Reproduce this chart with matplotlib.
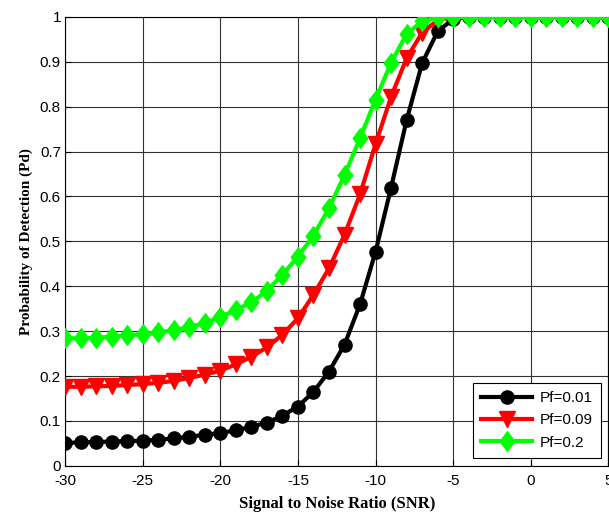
import matplotlib.pyplot as plt
from matplotlib.path import Path

# SNR axis (dB)
snr = list(range(-30, 6))

# Pd for each false alarm probability
pd_001 = [0.051, 0.052, 0.053, 0.054, 0.055, 0.056, 0.058, 0.061, 0.065, 0.069,
          0.073, 0.079, 0.087, 0.096, 0.112, 0.132, 0.165, 0.21, 0.27, 0.36,
          0.477, 0.62, 0.77, 0.897, 0.968, 0.995, 1.0, 1.0, 1.0, 1.0,
          1.0, 1.0, 1.0, 1.0, 1.0, 1.0]
pd_009 = [0.176, 0.176, 0.177, 0.178, 0.18, 0.182, 0.185, 0.189, 0.196, 0.203,
          0.212, 0.226, 0.243, 0.264, 0.292, 0.329, 0.381, 0.44, 0.515, 0.605,
          0.717, 0.822, 0.908, 0.965, 0.993, 1.0, 1.0, 1.0, 1.0, 1.0,
          1.0, 1.0, 1.0, 1.0, 1.0, 1.0]
pd_02 = [0.284, 0.284, 0.285, 0.288, 0.291, 0.293, 0.297, 0.302, 0.309, 0.318,
         0.332, 0.347, 0.364, 0.39, 0.426, 0.466, 0.513, 0.574, 0.648, 0.73,
         0.816, 0.898, 0.962, 0.99, 1.0, 1.0, 1.0, 1.0, 1.0, 1.0,
         1.0, 1.0, 1.0, 1.0, 1.0, 1.0]

xticks = [-30, -25, -20, -15, -10, -5, 0, 5]
yticks = [0, 0.1, 0.2, 0.3, 0.4, 0.5, 0.6, 0.7, 0.8, 0.9, 1]

plt.rcParams['font.family'] = ['Liberation Sans', 'DejaVu Sans']
plt.rcParams['axes.unicode_minus'] = False

# matlab style diamond, a bit taller than wide
diamond = Path([(0, 1), (0.75, 0), (0, -1), (-0.75, 0), (0, 1)],
               [Path.MOVETO, Path.LINETO, Path.LINETO, Path.LINETO, Path.CLOSEPOLY])

fig = plt.figure(figsize=(6.09, 5.13), dpi=100)
ax = fig.add_axes([0.107, 0.092, 0.892, 0.875])

ax.plot(snr, pd_001, color='k', lw=3, marker='o', ms=9.5, label='Pf=0.01', zorder=3)
ax.plot(snr, pd_009, color='r', lw=3, marker='v', ms=11.5, label='Pf=0.09', zorder=4)
ax.plot(snr, pd_02, color=(0, 1, 0), lw=3, marker=diamond, ms=14, label='Pf=0.2', zorder=5)

ax.set_xlim(-30, 5)
ax.set_ylim(0, 1)
ax.set_xticks(xticks)
ax.set_yticks(yticks)
ax.set_yticklabels(['0', '0.1', '0.2', '0.3', '0.4', '0.5', '0.6', '0.7', '0.8', '0.9', '1'])
ax.tick_params(direction='in', labelsize=11, length=4)
ax.tick_params(axis='x', pad=6)
ax.tick_params(axis='y', pad=3)
ax.grid(True, color='0.2', lw=0.8, ls='-')
ax.set_axisbelow(True)

ax.set_xlabel('Signal to Noise Ratio (SNR)', family='Liberation Serif',
              fontweight='bold', fontsize=12, labelpad=6)
ax.set_ylabel('Probability of Detection (Pd)', family='Liberation Serif',
              fontweight='bold', fontsize=11, labelpad=5)

leg = ax.legend(loc='lower right', fontsize=11, fancybox=False, framealpha=1,
                edgecolor='k', handlelength=3.3, handletextpad=0.5,
                borderaxespad=0.5, labelspacing=0.55, borderpad=0.55)
leg.get_frame().set_linewidth(0.8)

fig.savefig('out.png', dpi=100)
